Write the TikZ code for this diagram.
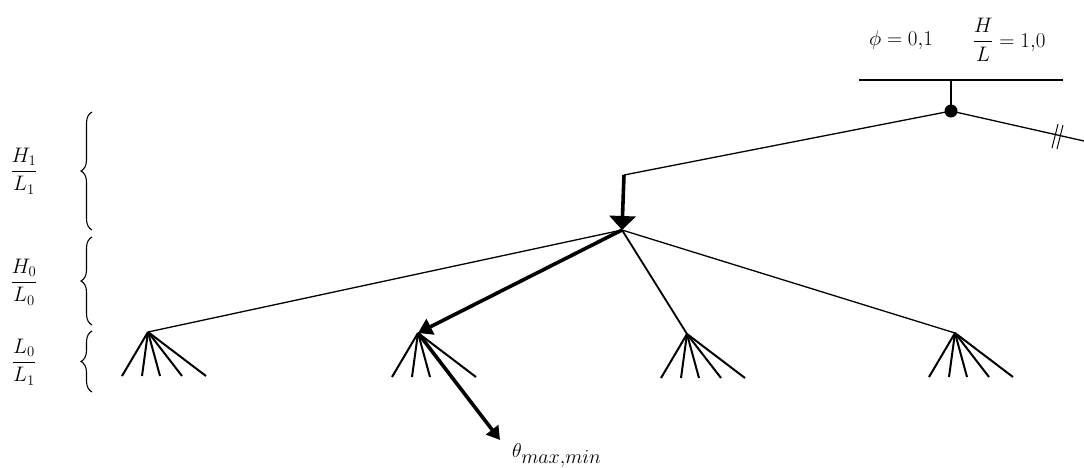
\documentclass[tikz,border=0pt]{standalone}
\usepackage{fix-cm}
\usepackage{amsmath}
\usetikzlibrary{arrows.meta,decorations.pathreplacing}
\begin{document}
\begin{tikzpicture}[x=1pt,y=-1pt,
  thinline/.style={line width=1.3pt},
  medline/.style={line width=1.8pt},
  fanline/.style={line width=2pt},
  thickarrow/.style={line width=3.6pt,-{Triangle[width=17pt,length=14pt]}},
  bigarrow/.style={line width=3.6pt,-{Triangle[width=26pt,length=14pt]}},
  bracestyle/.style={decorate,decoration={brace,amplitude=11pt},line width=1.1pt},
  lbl/.style={inner sep=0pt,font=\fontsize{21}{25}\selectfont}]
\useasboundingbox (0,0) rectangle (1084,467);
% top bar and root
\coordinate (barL) at (859,80);
\coordinate (barR) at (1063,80);
\coordinate (barM) at (951,80);
\draw[thinline] (barL) -- (barR);
\node[circle,fill=black,inner sep=0pt,minimum size=13pt] (root) at (951,111) {};
\draw[thinline] (barM) -- (root.center);
\coordinate (rightend) at (1084,141);
\draw[thinline] (root.center) -- (rightend);
\coordinate (s1a) at (1052,148); \coordinate (s1b) at (1058,124);
\coordinate (s2a) at (1057,149); \coordinate (s2b) at (1063,125);
\draw[line width=1pt] (s1a) -- (s1b);
\draw[line width=1pt] (s2a) -- (s2b);
\node[lbl] (phi) at (901,40) {$\phi = 0{,}1$};
\node[lbl] (HL) at (1009,40) {$\dfrac{H}{L} = 1{,}0$};
% middle node
\coordinate (corner) at (624,175);
\coordinate (M) at (622,230);
\draw[thinline] (root.center) -- (corner);
\draw[bigarrow] (corner) -- (M);
% leaves
\coordinate (L1) at (148,332);
\coordinate (L2) at (418,333);
\coordinate (L3) at (687,334);
\coordinate (L4) at (955,333);
\draw[thinline] (M) -- (L1);
\draw[medline] (M) -- (L3);
\draw[thinline] (M) -- (L4);
\draw[thickarrow] (M) -- (L2);
% fans
\foreach \L in {L1,L2,L3,L4}{
  \foreach \dx in {-26,-6,12,34,58}{
    \draw[fanline] (\L) -- ([xshift=\dx pt,yshift=-44pt]\L);
  }
}
% theta arrow
\coordinate (thetaend) at (500,440);
\draw[line width=3.6pt,-{Triangle[width=15pt,length=13pt]}] (L2) -- (thetaend);
\node[inner sep=0pt,anchor=base west,font=\fontsize{20}{24}\selectfont] (theta) at (512,457) {$\theta_{\textstyle max{,}min}$};
% braces
\coordinate (b1t) at (92,112); \coordinate (b1b) at (92,230);
\coordinate (b2t) at (92,237); \coordinate (b2b) at (92,325);
\coordinate (b3t) at (92,331); \coordinate (b3b) at (92,392);
\draw[bracestyle] (b1b) -- (b1t);
\draw[bracestyle] (b2b) -- (b2t);
\draw[bracestyle] (b3b) -- (b3t);
\node[lbl] (f1) at (24,171) {$\dfrac{H_1}{L_1}$};
\node[lbl] (f2) at (24,282) {$\dfrac{H_0}{L_0}$};
\node[lbl] (f3) at (24,362) {$\dfrac{L_0}{L_1}$};
\end{tikzpicture}
\end{document}
